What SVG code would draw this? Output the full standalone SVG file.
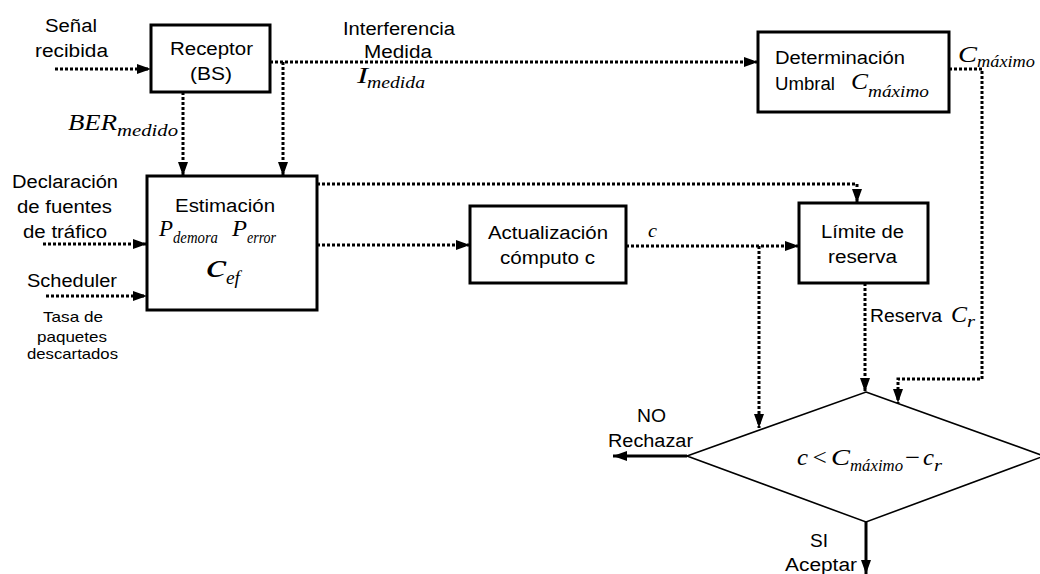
<svg xmlns="http://www.w3.org/2000/svg" width="1040" height="574" viewBox="0 0 1040 574">
<defs>
<style>
.box{fill:#fff;stroke:#000;stroke-width:3}
.dia{fill:#fff;stroke:#000;stroke-width:1.6}
.dot{fill:none;stroke:#000;stroke-width:3;stroke-dasharray:3 2}
.sol{fill:none;stroke:#000;stroke-width:3}
.t{font-family:"Liberation Sans",Arial,sans-serif;font-size:18px;fill:#000}
.ts{font-family:"Liberation Sans",Arial,sans-serif;font-size:15px;fill:#000}
.m{font-family:"Liberation Serif","Times New Roman",serif;font-style:italic;font-size:23px;fill:#000}
.ms{font-family:"Liberation Serif","Times New Roman",serif;font-style:italic;font-size:17px;fill:#000}
</style>
<marker id="ah" markerWidth="14" markerHeight="10" refX="14" refY="5" orient="auto" markerUnits="userSpaceOnUse"><path d="M0,0 L14,5 L0,10 z" fill="#000"/></marker>
</defs>
<rect width="1040" height="574" fill="#fff"/>
<g id="connectors">
<path class="dot" d="M55,69 H151" marker-end="url(#ah)"/>
<path class="dot" d="M270,62 H758" marker-end="url(#ah)"/>
<path class="dot" d="M283,62 V176" marker-end="url(#ah)"/>
<path class="dot" d="M183,92 V176" marker-end="url(#ah)"/>
<path class="dot" d="M43,244 H147" marker-end="url(#ah)"/>
<path class="dot" d="M46,296 H147" marker-end="url(#ah)"/>
<path class="dot" d="M317,184 H857 V203" marker-end="url(#ah)"/>
<path class="dot" d="M317,245 H470" marker-end="url(#ah)"/>
<path class="dot" d="M626,246 H799" marker-end="url(#ah)"/>
<path class="dot" d="M759,246 V428" marker-end="url(#ah)"/>
<path class="dot" d="M865,283 V392" marker-end="url(#ah)"/>
<path class="dot" d="M949,69 H982 V379 H898 V403" marker-end="url(#ah)"/>
<path class="sol" d="M687,456 H613" marker-end="url(#ah)"/>
<path class="sol" d="M866,522 V574" marker-end="url(#ah)"/>
</g>
<g id="receptor">
<rect class="box" x="151" y="25" width="119" height="67"/>
<text class="t" x="170" y="55" textLength="83" lengthAdjust="spacingAndGlyphs">Receptor</text>
<text class="t" x="190" y="80" textLength="42" lengthAdjust="spacingAndGlyphs">(BS)</text>
</g>
<g id="determinacion">
<rect class="box" x="758" y="32" width="191" height="80"/>
<text class="t" x="775" y="64" textLength="130" lengthAdjust="spacingAndGlyphs">Determinación</text>
<text class="t" x="775" y="90" textLength="60" lengthAdjust="spacingAndGlyphs">Umbral</text>
<text class="m" x="851" y="89" textLength="17" lengthAdjust="spacingAndGlyphs">C</text>
<text class="ms" x="868" y="97" textLength="61" lengthAdjust="spacingAndGlyphs">máximo</text>
</g>
<g id="estimacion">
<rect class="box" x="147" y="176" width="170" height="134"/>
<text class="t" x="175" y="212" textLength="100" lengthAdjust="spacingAndGlyphs">Estimación</text>
<text class="m" x="159" y="236" textLength="14" lengthAdjust="spacingAndGlyphs">P</text>
<text class="ms" x="173" y="243" textLength="45" lengthAdjust="spacingAndGlyphs">demora</text>
<text class="m" x="232" y="236" textLength="15" lengthAdjust="spacingAndGlyphs">P</text>
<text class="ms" x="247" y="243" textLength="29" lengthAdjust="spacingAndGlyphs">error</text>
<text class="m" x="206" y="277" style="font-size:34px" textLength="21" lengthAdjust="spacingAndGlyphs">c</text>
<text class="ms" x="226" y="284" style="font-size:18px" textLength="14" lengthAdjust="spacingAndGlyphs">ef</text>
</g>
<g id="actualizacion">
<rect class="box" x="470" y="206" width="156" height="77"/>
<text class="t" x="488" y="239" textLength="120" lengthAdjust="spacingAndGlyphs">Actualización</text>
<text class="t" x="500" y="264" textLength="95" lengthAdjust="spacingAndGlyphs">cómputo c</text>
</g>
<g id="limite">
<rect class="box" x="799" y="203" width="129" height="80"/>
<text class="t" x="821" y="238" textLength="83" lengthAdjust="spacingAndGlyphs">Límite de</text>
<text class="t" x="828" y="263" textLength="69" lengthAdjust="spacingAndGlyphs">reserva</text>
</g>
<g id="decision">
<polygon class="dia" points="866,392 1044,456 866,522 687,456"/>
<text class="m" x="797" y="465" textLength="11" lengthAdjust="spacingAndGlyphs">c</text>
<text class="m" x="811" y="465" textLength="17" lengthAdjust="spacingAndGlyphs">&lt;</text>
<text class="m" x="831" y="465" textLength="19" lengthAdjust="spacingAndGlyphs">C</text>
<text class="ms" x="850" y="471" textLength="53" lengthAdjust="spacingAndGlyphs">máximo</text>
<text class="m" x="905" y="465" style="font-style:normal" textLength="15" lengthAdjust="spacingAndGlyphs">−</text>
<text class="m" x="923" y="465" textLength="11" lengthAdjust="spacingAndGlyphs">c</text>
<text class="ms" x="934" y="471" textLength="8" lengthAdjust="spacingAndGlyphs">r</text>
</g>
<g id="labels">
<text class="t" x="45" y="32" textLength="52" lengthAdjust="spacingAndGlyphs">Señal</text>
<text class="t" x="35" y="57" textLength="73" lengthAdjust="spacingAndGlyphs">recibida</text>
<text class="m" x="68" y="130" textLength="49" lengthAdjust="spacingAndGlyphs">BER</text>
<text class="ms" x="117" y="136" textLength="61" lengthAdjust="spacingAndGlyphs">medido</text>
<text class="t" x="343" y="35" textLength="112" lengthAdjust="spacingAndGlyphs">Interferencia</text>
<text class="t" x="364" y="58" textLength="68" lengthAdjust="spacingAndGlyphs">Medida</text>
<text class="m" x="357" y="83" textLength="11" lengthAdjust="spacingAndGlyphs">I</text>
<text class="ms" x="367" y="88" textLength="58" lengthAdjust="spacingAndGlyphs">medida</text>
<text class="m" x="958" y="62" textLength="19" lengthAdjust="spacingAndGlyphs">C</text>
<text class="ms" x="977" y="67" textLength="58" lengthAdjust="spacingAndGlyphs">máximo</text>
<text class="t" x="12" y="188" textLength="106" lengthAdjust="spacingAndGlyphs">Declaración</text>
<text class="t" x="17" y="213" textLength="95" lengthAdjust="spacingAndGlyphs">de fuentes</text>
<text class="t" x="23" y="238" textLength="84" lengthAdjust="spacingAndGlyphs">de tráfico</text>
<text class="t" x="27" y="287" textLength="90" lengthAdjust="spacingAndGlyphs">Scheduler</text>
<text class="ts" x="43" y="322" textLength="60" lengthAdjust="spacingAndGlyphs">Tasa de</text>
<text class="ts" x="37" y="342" textLength="70" lengthAdjust="spacingAndGlyphs">paquetes</text>
<text class="ts" x="27" y="359" textLength="91" lengthAdjust="spacingAndGlyphs">descartados</text>
<text class="m" x="648" y="237" textLength="9" lengthAdjust="spacingAndGlyphs" style="font-size:19px">c</text>
<text class="t" x="870" y="322" textLength="72" lengthAdjust="spacingAndGlyphs">Reserva</text>
<text class="m" x="951" y="322" textLength="16" lengthAdjust="spacingAndGlyphs">C</text>
<text class="ms" x="967" y="327" textLength="8" lengthAdjust="spacingAndGlyphs">r</text>
<text class="t" x="637" y="422" textLength="29" lengthAdjust="spacingAndGlyphs">NO</text>
<text class="t" x="608" y="447" textLength="85" lengthAdjust="spacingAndGlyphs">Rechazar</text>
<text class="t" x="810" y="547" textLength="18" lengthAdjust="spacingAndGlyphs">SI</text>
<text class="t" x="785" y="571" textLength="72" lengthAdjust="spacingAndGlyphs">Aceptar</text>
</g>
</svg>
